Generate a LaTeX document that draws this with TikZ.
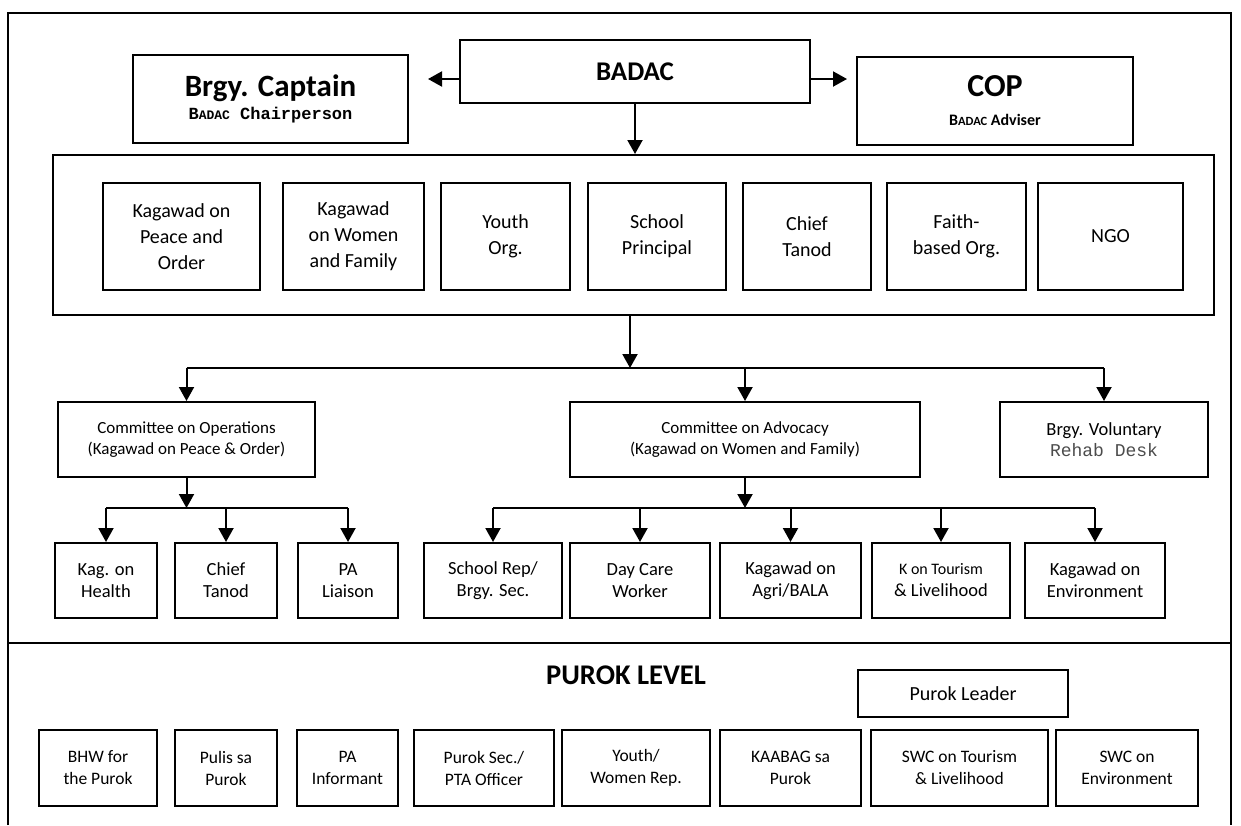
\documentclass[tikz,border=0pt]{standalone}
\usepackage{fontspec}
\setmainfont{Carlito}
\setmonofont{Liberation Mono}
\usetikzlibrary{arrows.meta}
\begin{document}
\begin{tikzpicture}[x=1pt,y=-1pt,
  box/.style={draw, line width=2pt, align=center, inner sep=0pt},
  big/.style={box, font=\fontsize{20}{26}\selectfont},
  cmt/.style={box, font=\fontsize{17}{21}\selectfont},
  sub/.style={box, font=\fontsize{18.5}{22}\selectfont},
  pur/.style={box, font=\fontsize{17.5}{22}\selectfont},
  ln/.style={line width=2pt},
  arr/.style={line width=2pt, -{Triangle[width=15pt,length=14pt]}}]
\useasboundingbox (0,0) rectangle (1241,825);
% outer frame and divider
\draw[ln] (8,825) -- (8,13) -- (1231,13) -- (1231,825);
\draw[ln] (8,643) -- (1231,643);
% top row
\node[box, minimum width=350pt, minimum height=63pt, font=\bfseries\fontsize{27}{30}\selectfont] (badac) at (635,71.5) {BADAC};
\node[box, minimum width=275pt, minimum height=88pt] (captain) at (270.5,99)
  {{\bfseries\fontsize{31}{34}\selectfont Brgy. Captain}\\[5pt]
   {\ttfamily\bfseries\fontsize{17}{20}\selectfont B{\fontsize{13}{16}\selectfont ADAC} Chairperson}};
\node[box, minimum width=276pt, minimum height=88pt] (cop) at (995,101)
  {{\bfseries\fontsize{32}{34}\selectfont COP}\\[17pt]
   {\bfseries\fontsize{16}{20}\selectfont B{\fontsize{12.5}{16}\selectfont ADAC} Adviser}};
\coordinate (capend) at (428,79);
\coordinate (copend) at (847,79);
\draw[arr] ([yshift=-7.5pt]badac.west) -- (capend);
\draw[arr] ([yshift=-7.5pt]badac.east) -- (copend);
% council box
\node[box, minimum width=1161pt, minimum height=160pt] (council) at (633.5,235) {};
\draw[arr] (badac.south) -- (badac.south |- council.north);
\node[big, minimum width=157pt, minimum height=107pt] (m1) at (181.5,236.5) {Kagawad on\\Peace and\\Order};
\node[big, minimum width=141pt, minimum height=107pt] (m2) at (353.5,236.5) {Kagawad\\on Women\\and Family};
\node[big, minimum width=129pt, minimum height=107pt] (m3) at (505.5,236.5) {Youth\\Org.};
\node[big, minimum width=138pt, minimum height=107pt] (m4) at (657,236.5) {School\\Principal};
\node[big, minimum width=128pt, minimum height=107pt] (m5) at (807,236.5) {Chief\\Tanod};
\node[big, minimum width=139pt, minimum height=107pt] (m6) at (956.5,236.5) {Faith-\\based Org.};
\node[big, minimum width=145pt, minimum height=107pt] (m7) at (1110.5,236.5) {NGO};
% committees
\node[cmt, minimum width=257pt, minimum height=75pt] (ops) at (186.5,439.5) {Committee on Operations\\(Kagawad on Peace \& Order)};
\node[cmt, minimum width=350pt, minimum height=75pt] (adv) at (745,439.5) {Committee on Advocacy\\(Kagawad on Women and Family)};
\node[box, minimum width=208pt, minimum height=75pt] (rehab) at (1104,439.5)
  {{\fontsize{18.5}{22}\selectfont Brgy. Voluntary}\\[4pt]
   {\ttfamily\fontsize{18}{22}\selectfont\color{black!70}Rehab Desk}};
\coordinate (hub1) at (630,368);
\draw[arr] (hub1 |- council.south) -- (hub1);
\draw[ln] (ops.north |- hub1) -- (rehab.north |- hub1);
\draw[arr] (ops.north |- hub1) -- (ops.north);
\draw[arr] (adv.north |- hub1) -- (adv.north);
\draw[arr] (rehab.north |- hub1) -- (rehab.north);
% sub boxes
\node[sub, minimum width=102pt, minimum height=75pt] (s1) at (106,580.5) {Kag. on\\Health};
\node[sub, minimum width=102pt, minimum height=75pt] (s2) at (226,580.5) {Chief\\Tanod};
\node[sub, minimum width=100pt, minimum height=75pt] (s3) at (348,580.5) {PA\\Liaison};
\node[sub, minimum width=138pt, minimum height=75pt] (s4) at (493,580.5) {School Rep/\\Brgy. Sec.};
\node[sub, minimum width=140pt, minimum height=75pt] (s5) at (640,580.5) {Day Care\\Worker};
\node[sub, minimum width=141pt, minimum height=75pt] (s6) at (790.5,580.5) {Kagawad on\\Agri/BALA};
\node[sub, minimum width=138pt, minimum height=75pt] (s7) at (941,580.5) {{\fontsize{16}{22}\selectfont K on Tourism}\\\& Livelihood};
\node[sub, minimum width=140pt, minimum height=75pt] (s8) at (1095,580.5) {Kagawad on\\Environment};
\coordinate (hub2) at (ops.south |- 0,508);
\coordinate (hub3) at (adv.south |- 0,508);
\draw[arr] (ops.south) -- (hub2);
\draw[arr] (adv.south) -- (hub3);
\draw[ln] (s1.north |- hub2) -- (s3.north |- hub2);
\draw[ln] (s4.north |- hub3) -- (s8.north |- hub3);
\foreach \s in {s1,s2,s3}{\draw[arr] (\s.north |- hub2) -- (\s.north);}
\foreach \s in {s4,s5,s6,s7,s8}{\draw[arr] (\s.north |- hub3) -- (\s.north);}
% purok level
\node[font=\bfseries\fontsize{28.5}{30}\selectfont] (purok) at (626,675) {PUROK LEVEL};
\node[box, minimum width=210pt, minimum height=47pt, font=\fontsize{20}{24}\selectfont] (leader) at (963,693.5) {Purok Leader};
\node[pur, minimum width=118pt, minimum height=76pt] (p1) at (98,768) {BHW for\\the Purok};
\node[pur, minimum width=102pt, minimum height=76pt] (p2) at (226,768) {Pulis sa\\Purok};
\node[pur, minimum width=101pt, minimum height=76pt] (p3) at (347.5,768) {PA\\Informant};
\node[pur, minimum width=140pt, minimum height=76pt] (p4) at (484,768) {Purok Sec./\\PTA Officer};
\node[pur, minimum width=148pt, minimum height=76pt] (p5) at (636,768) {Youth/\\Women Rep.};
\node[pur, minimum width=141pt, minimum height=76pt] (p6) at (790.5,768) {KAABAG sa\\Purok};
\node[pur, minimum width=177pt, minimum height=76pt] (p7) at (959.5,768) {SWC on Tourism\\\& Livelihood};
\node[pur, minimum width=142pt, minimum height=76pt] (p8) at (1127,768) {SWC on\\Environment};
\end{tikzpicture}
\end{document}
